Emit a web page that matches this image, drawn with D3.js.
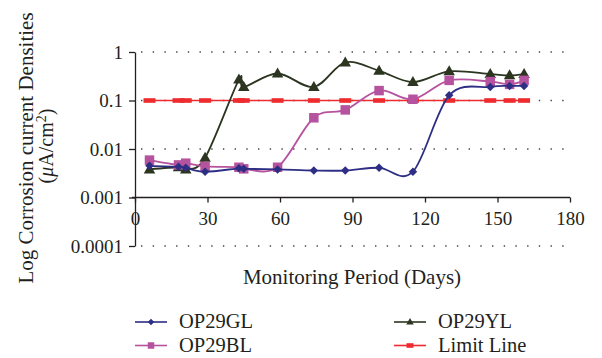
<!DOCTYPE html>
<html>
<head>
<meta charset="utf-8">
<script src="https://cdn.jsdelivr.net/npm/d3@7"></script>
<style>
  body { margin: 0; background: #fff; }
  text { font-family: "Liberation Serif", "DejaVu Serif", serif; fill: #231f20; }
  .axis path, .axis line { stroke: #231f20; stroke-width: 1.3; }
  .grid line { stroke: #444; stroke-width: 1.4; stroke-dasharray: 1.4, 10.3; }
</style>
</head>
<body>
<div id="chart"></div>
<script>
// monitoring days (x) for every series
const days = [6, 18, 21, 29, 43, 45, 59, 74, 87, 101, 115, 130, 147, 155, 161]

const op29GL = [0.0045, 0.0043, 0.0041, 0.0034, 0.0040, 0.0039, 0.0038, 0.0036, 0.0036, 0.0041, 0.0034, 0.128, 0.19, 0.20, 0.20]
const op29BL = [0.0059, 0.0047, 0.0051, 0.0044, 0.0042, 0.0039, 0.0042, 0.044, 0.064, 0.16, 0.106, 0.26, 0.245, 0.215, 0.26]
const op29YL = [0.0038, 0.0042, 0.0038, 0.0066, 0.27, 0.19, 0.36, 0.19, 0.61, 0.41, 0.24, 0.40, 0.35, 0.33, 0.35]
const limitLine = days.map(() => 0.1)

const xTicks = [0, 30, 60, 90, 120, 150, 180]
const yTicks = [1, 0.1, 0.01, 0.001, 0.0001]
const yTickLabels = ["1", "0.1", "0.01", "0.001", "0.0001"]

const width = 602, height = 358
const plot = { left: 135, right: 570, top: 52, bottom: 246 }

const svg = d3.select("#chart").append("svg")
  .attr("width", width)
  .attr("height", height)

const x = d3.scaleLinear().domain([0, 180]).range([plot.left, plot.right])
const y = d3.scaleLog().domain([0.0001, 1]).range([plot.bottom, plot.top])

// dotted grid at every decade except the one carrying the x axis
svg.append("g")
  .attr("class", "grid")
  .selectAll("line")
  .data(yTicks.filter(d => d !== 0.001))
  .join("line")
  .attr("x1", plot.left + 6)
  .attr("x2", plot.right)
  .attr("y1", d => y(d))
  .attr("y2", d => y(d))

// y axis
const yAxis = svg.append("g")
  .attr("class", "axis")
  .attr("transform", "translate(" + plot.left + ",0)")
  .call(d3.axisLeft(y).tickValues(yTicks).tickFormat((d, i) => yTickLabels[i]).tickSize(6).tickPadding(6).tickSizeOuter(0))
yAxis.selectAll("text").style("font-size", "19px")

// x axis sits on the 0.001 line
const xAxis = svg.append("g")
  .attr("class", "axis")
  .attr("transform", "translate(0," + y(0.001) + ")")
  .call(d3.axisBottom(x).tickValues(xTicks).tickSize(5).tickPadding(9).tickSizeOuter(0))
xAxis.select(".domain").attr("d", "M" + (plot.left - 3) + ",0H" + plot.right)
xAxis.selectAll("text").style("font-size", "19px")

// axis titles
svg.append("text")
  .attr("x", 352)
  .attr("y", 284)
  .attr("text-anchor", "middle")
  .style("font-size", "21px")
  .text("Monitoring Period (Days)")

svg.append("text")
  .attr("transform", "translate(33,148) rotate(-90)")
  .attr("text-anchor", "middle")
  .style("font-size", "21px")
  .text("Log Corrosion current Densities")

const unit = svg.append("text")
  .attr("transform", "translate(53,146) rotate(-90)")
  .attr("text-anchor", "middle")
  .style("font-size", "20px")
unit.append("tspan").text("(")
unit.append("tspan").style("font-style", "italic").text("μ")
unit.append("tspan").text("A/cm")
unit.append("tspan").attr("dy", -7).style("font-size", "14px").text("2")
unit.append("tspan").attr("dy", 7).text(")")

const series = [
  { name: "OP29GL", values: op29GL, color: "#2e2f84", marker: "diamond" },
  { name: "OP29BL", values: op29BL, color: "#b5539f", marker: "square" },
  { name: "OP29YL", values: op29YL, color: "#2b3520", marker: "triangle" },
  { name: "Limit Line", values: limitLine, color: "#ee2b2e", marker: "dash" }
]

const line = d3.line()
  .x(d => x(d[0]))
  .y(d => y(d[1]))

// size is the marker's width in px
function drawMarker(g, type, color, size) {
  if (type === "square") {
    g.append("rect").attr("x", -size / 2).attr("y", -size / 2)
      .attr("width", size).attr("height", size).attr("fill", color)
  } else if (type === "diamond") {
    const r = size / 2
    g.append("path").attr("d", `M0,${-r}L${r},0L0,${r}L${-r},0Z`).attr("fill", color)
  } else if (type === "triangle") {
    const h = size * 0.87
    g.append("path").attr("d", `M0,${-h * 0.6}L${size / 2},${h * 0.4}L${-size / 2},${h * 0.4}Z`).attr("fill", color)
  } else {
    g.append("rect").attr("x", -size / 2).attr("y", -2.3)
      .attr("width", size).attr("height", 4.6).attr("fill", color)
  }
}

// draw order: limit line first, then green, magenta, navy on top
const drawOrder = [3, 2, 1, 0]
const markerSize = { diamond: 8.5, square: 9.5, triangle: 11.5, dash: 12 }

drawOrder.forEach(i => {
  const s = series[i]
  const pts = days.map((d, j) => [d, s.values[j]])
  svg.append("path")
    .datum(pts)
    .attr("fill", "none")
    .attr("stroke", s.color)
    .attr("stroke-width", s.marker === "dash" ? 1.6 : 1.8)
    .attr("d", s.marker === "dash" ? line.curve(d3.curveLinear)(pts) : line.curve(d3.curveCardinal.tension(0))(pts))

  svg.append("g")
    .selectAll("g")
    .data(pts)
    .join("g")
    .attr("transform", d => "translate(" + x(d[0]) + "," + y(d[1]) + ")")
    .each(function () { drawMarker(d3.select(this), s.marker, s.color, markerSize[s.marker]) })
})

// legend, two columns
const legendPos = [
  { x: 135, y: 322 },
  { x: 135, y: 345.5 },
  { x: 394, y: 322 },
  { x: 394, y: 345.5 }
]
const legendMarker = { diamond: 6.5, square: 6.5, triangle: 7.5, dash: 7 }
series.forEach((s, i) => {
  const p = legendPos[i]
  const g = svg.append("g").attr("transform", "translate(" + p.x + "," + p.y + ")")
  g.append("line").attr("x1", 0).attr("x2", 32).attr("stroke", s.color).attr("stroke-width", 1.6)
  const m = g.append("g").attr("transform", "translate(16,0)")
  drawMarker(m, s.marker, s.color, legendMarker[s.marker])
  g.append("text")
    .attr("x", 44)
    .attr("y", 6)
    .style("font-size", "20.5px")
    .text(s.name)
})
</script>
</body>
</html>
